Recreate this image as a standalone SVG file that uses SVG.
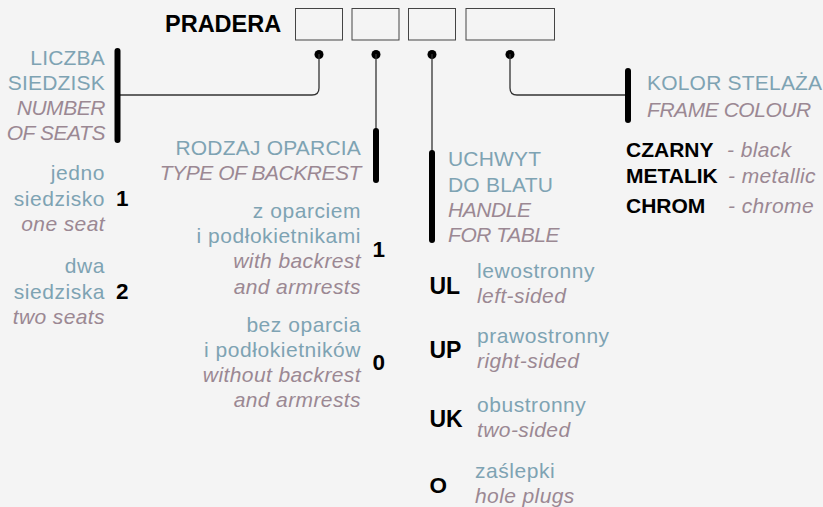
<svg xmlns="http://www.w3.org/2000/svg" width="823" height="507" viewBox="0 0 823 507">
<style>
text{font-family:"Liberation Sans",Arial,sans-serif;}
.b{fill:#7ea3b3;font-size:21px;letter-spacing:0.2px;}
.bl{fill:#7ea3b3;font-size:21px;letter-spacing:0.55px;}
.m{fill:#9b8893;font-size:21px;font-style:italic;letter-spacing:-0.45px;}
.ml{fill:#9b8893;font-size:21px;font-style:italic;letter-spacing:0.4px;}
.k{fill:#000;font-weight:bold;font-size:21px;}
.c{fill:#000;font-weight:bold;font-size:22.5px;}
.r{text-anchor:end;}
.box{fill:none;stroke:#444;stroke-width:1;}
.ln{fill:none;stroke:#333;stroke-width:1.3;}
.bar{stroke:#000;stroke-width:6;stroke-linecap:round;}
.dot{fill:#000;}
</style>
<rect width="823" height="507" fill="#f4f4f4"/>
<g id="header">
<text x="165" y="32" style="font-weight:bold;font-size:23.5px;fill:#000">PRADERA</text>
<rect class="box" x="295.5" y="8.5" width="47" height="31.5"/>
<rect class="box" x="352" y="8.5" width="47" height="31.5"/>
<rect class="box" x="408.5" y="8.5" width="47" height="31.5"/>
<rect class="box" x="466" y="8.5" width="88.5" height="31.5"/>
</g>
<g id="connectors">
<circle class="dot" cx="319" cy="54.5" r="4.5"/>
<circle class="dot" cx="376" cy="54.5" r="4.5"/>
<circle class="dot" cx="432" cy="54.5" r="4.5"/>
<circle class="dot" cx="510" cy="54.5" r="4.5"/>
<path class="ln" d="M319,54 V88 Q319,95 312,95 H118"/>
<path class="ln" d="M376,54 V130"/>
<path class="ln" d="M432,54 V152"/>
<path class="ln" d="M510,54 V88 Q510,95 517,95 H628"/>
</g>
<g id="seats">
<line class="bar" x1="117.5" y1="51" x2="117.5" y2="140"/>
<text class="b r" x="105" y="65">LICZBA</text>
<text class="b r" x="105" y="90">SIEDZISK</text>
<text class="m r" x="105" y="115">NUMBER</text>
<text class="m r" x="105" y="140">OF SEATS</text>
<text class="bl r" x="105" y="180">jedno</text>
<text class="bl r" x="105" y="206">siedzisko</text>
<text class="ml r" x="105" y="231">one seat</text>
<text class="c" x="116" y="206">1</text>
<text class="bl r" x="105" y="273">dwa</text>
<text class="bl r" x="105" y="299">siedziska</text>
<text class="ml r" x="105" y="324">two seats</text>
<text class="c" x="116" y="299">2</text>
</g>
<g id="backrest">
<line class="bar" x1="376" y1="131" x2="376" y2="180"/>
<text class="b r" x="361" y="155">RODZAJ OPARCIA</text>
<text class="m r" x="361" y="180">TYPE OF BACKREST</text>
<text class="bl r" x="361" y="218">z oparciem</text>
<text class="bl r" x="361" y="243">i podłokietnikami</text>
<text class="ml r" x="361" y="268">with backrest</text>
<text class="ml r" x="361" y="294">and armrests</text>
<text class="c" x="372.5" y="257">1</text>
<text class="bl r" x="361" y="332">bez oparcia</text>
<text class="bl r" x="361" y="357">i podłokietników</text>
<text class="ml r" x="361" y="382">without backrest</text>
<text class="ml r" x="361" y="407">and armrests</text>
<text class="c" x="372.5" y="370">0</text>
</g>
<g id="handle">
<line class="bar" x1="432" y1="153" x2="432" y2="240"/>
<text class="b" x="448" y="166">UCHWYT</text>
<text class="b" x="448" y="192">DO BLATU</text>
<text class="m" x="448" y="217">HANDLE</text>
<text class="m" x="448" y="242">FOR TABLE</text>
<text class="c" x="429.5" y="294" style="font-size:23px">UL</text>
<text class="bl" x="477" y="278">lewostronny</text>
<text class="ml" x="477" y="303">left-sided</text>
<text class="c" x="429.5" y="358" style="font-size:23px">UP</text>
<text class="bl" x="477" y="343">prawostronny</text>
<text class="ml" x="477" y="368">right-sided</text>
<text class="c" x="429.5" y="427" style="font-size:23px">UK</text>
<text class="bl" x="477" y="412">obustronny</text>
<text class="ml" x="477" y="437">two-sided</text>
<text class="c" x="429.5" y="493">O</text>
<text class="bl" x="475" y="478">zaślepki</text>
<text class="ml" x="475" y="503">hole plugs</text>
</g>
<g id="frame">
<line class="bar" x1="628" y1="71" x2="628" y2="120"/>
<text class="b" x="647" y="90">KOLOR STELAŻA</text>
<text class="m" x="647" y="117">FRAME COLOUR</text>
<text class="k" x="626" y="157">CZARNY</text>
<text class="ml" x="727" y="157">- black</text>
<text class="k" x="626" y="183">METALIK</text>
<text class="ml" x="728" y="183">- metallic</text>
<text class="k" x="626" y="213">CHROM</text>
<text class="ml" x="728" y="213">- chrome</text>
</g>
</svg>
